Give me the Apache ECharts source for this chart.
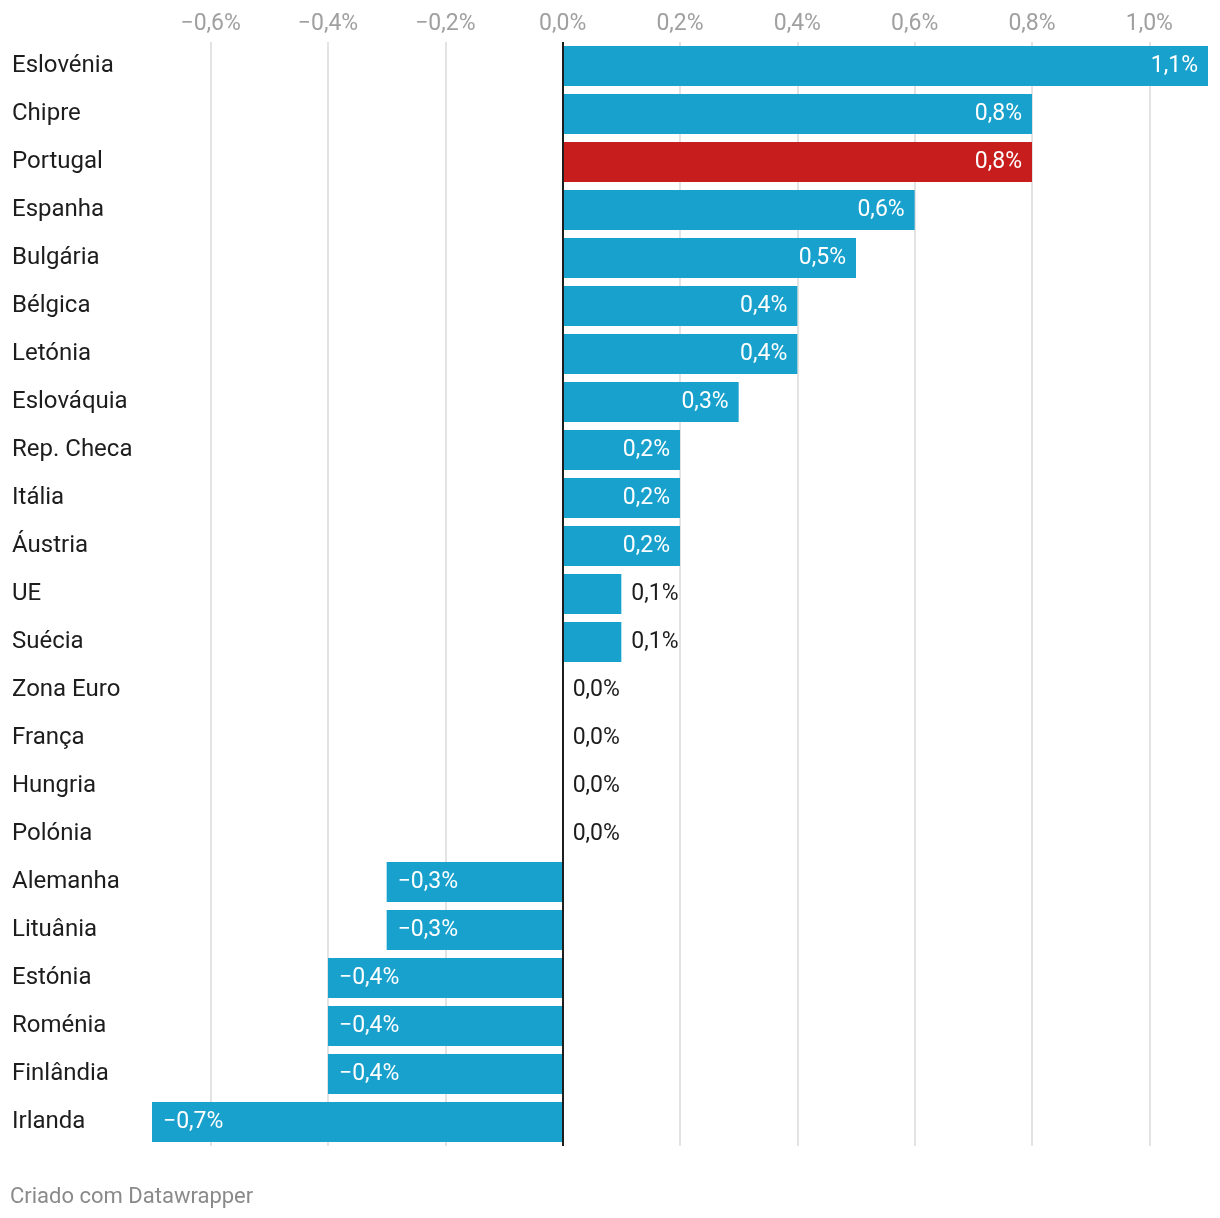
<!DOCTYPE html>
<html>
<head>
<meta charset="utf-8">
<script src="https://cdn.jsdelivr.net/npm/echarts@6/dist/echarts.min.js"></script>
<style>
html,body{margin:0;padding:0;background:#fff;}
#chart{width:1220px;height:1218px;}
</style>
</head>
<body>
<div id="chart"></div>
<script>
const categories = ['Eslovénia','Chipre','Portugal','Espanha','Bulgária','Bélgica','Letónia','Eslováquia','Rep. Checa','Itália','Áustria','UE','Suécia','Zona Euro','França','Hungria','Polónia','Alemanha','Lituânia','Estónia','Roménia','Finlândia','Irlanda'];
const values = [1.1,0.8,0.8,0.6,0.5,0.4,0.4,0.3,0.2,0.2,0.2,0.1,0.1,0.0,0.0,0.0,0.0,-0.3,-0.3,-0.4,-0.4,-0.4,-0.7];
const tickValues = [-0.6,-0.4,-0.2,0.0,0.2,0.4,0.6,0.8,1.0];
const highlighted = 'Portugal';
const footerText = 'Criado com Datawrapper';

const BLUE = '#18a1cd', RED = '#c71e1d', INK = '#1d1d1d';
const FONT = 'Roboto';

function fmt(v){
  const s = Math.abs(v).toFixed(1).replace('.', ',') + '%';
  return (v < -1e-9 ? '\u2212' : '') + s;
}

const data = values.map((v, i) => {
  let label;
  if (v >= 0.15) label = {position: 'insideRight', color: '#fff', distance: 10};
  else if (v >= 0) label = {position: 'right', color: INK, distance: 10};
  else label = {position: 'insideLeft', color: '#fff', distance: 11};
  return {
    value: v,
    itemStyle: {color: categories[i] === highlighted ? RED : BLUE},
    label: label
  };
});

const chart = echarts.init(document.getElementById('chart'), null, {renderer: 'canvas'});
chart.setOption({
  animation: false,
  backgroundColor: '#fff',
  grid: {left: 152, right: 12, top: 42, bottom: 72},
  xAxis: {
    type: 'value',
    position: 'top',
    min: -0.7,
    max: 1.1,
    axisLine: {show: false},
    axisTick: {show: false, customValues: tickValues},
    axisLabel: {
      customValues: tickValues,
      formatter: fmt,
      color: '#a0a0a0',
      fontFamily: FONT,
      fontSize: 23,
      margin: 6
    },
    splitLine: {show: true, lineStyle: {color: '#e3e3e3', width: 2}}
  },
  yAxis: {
    type: 'category',
    data: categories,
    inverse: true,
    axisLine: {show: false},
    axisTick: {show: false},
    axisLabel: {
      align: 'left',
      margin: 140,
      color: INK,
      fontFamily: FONT,
      fontSize: 24,
      padding: [6, 0, 0, 0]
    }
  },
  series: [{
    type: 'bar',
    data: data,
    barCategoryGap: '16.67%',
    label: {
      show: true,
      formatter: p => fmt(p.value),
      fontFamily: FONT,
      fontSize: 23,
      padding: [4, 0, 0, 0]
    },
    markLine: {
      silent: true,
      symbol: 'none',
      label: {show: false},
      lineStyle: {color: INK, width: 2, type: 'solid'},
      data: [{xAxis: 0}]
    }
  }],
  graphic: [{
    type: 'text',
    left: 10,
    top: 1186,
    style: {text: footerText, fill: '#8a8a8a', font: '22px Roboto'}
  }]
});
</script>
</body>
</html>
